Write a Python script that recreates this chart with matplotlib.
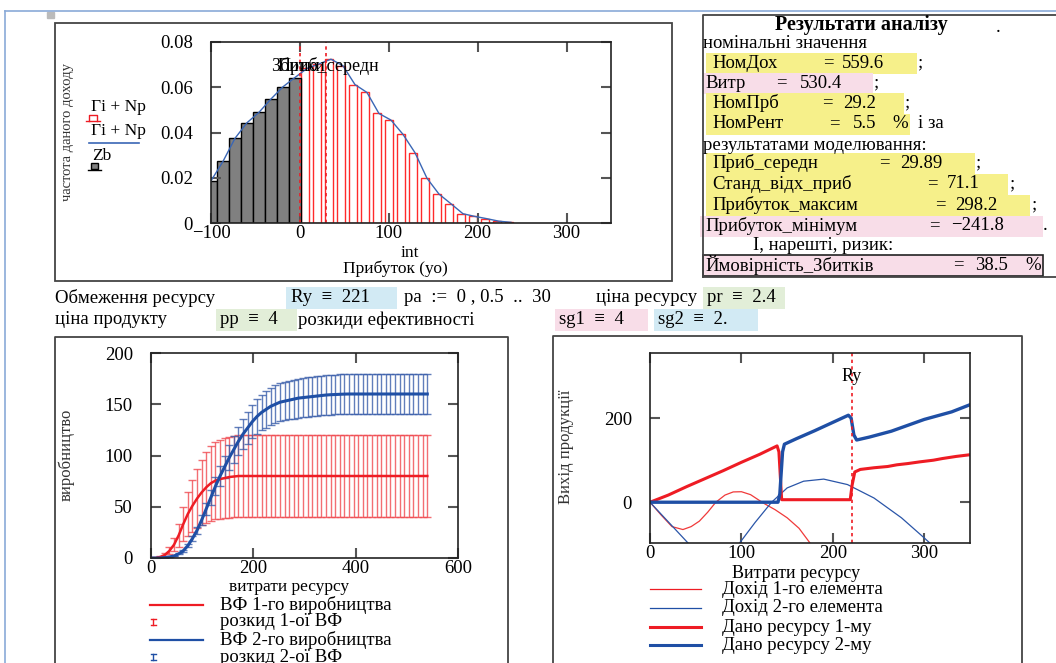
import numpy as np
import matplotlib.pyplot as plt
from matplotlib.patches import Rectangle

plt.rcParams['font.family'] = ['Liberation Serif', 'DejaVu Serif']

W, H = 1056, 663

# ---- гістограма прибутку (інтервали int, ширина 13.5)
int_left = [-106.8, -93.3, -79.8, -66.3, -52.8, -39.3, -25.8, -12.3,
            1.2, 14.7, 28.2, 41.7, 55.2, 68.7, 82.2, 95.7, 109.2, 122.7,
            136.2, 149.7, 163.2, 176.7, 190.2, 203.7, 217.2, 230.7]
freq = [0.0186, 0.0272, 0.0374, 0.0443, 0.0489, 0.0548, 0.0602, 0.0643,
        0.0683, 0.0703, 0.0724, 0.0695, 0.0612, 0.0577, 0.0484, 0.0455,
        0.0392, 0.0311, 0.0198, 0.0128, 0.0085, 0.0041, 0.0029, 0.0019,
        0.0008, 0.0003]
n_zb = 8          # інтервали збитків (сірі)
int_w = 13.5
prib_sered = 29.89

# ---- виробничі функції
res_x = np.arange(0, 541, 9)
vf1 = [0, 0, 1, 3, 7, 13, 22, 33, 43, 51, 58, 64, 69, 73, 75.5, 77, 78, 79,
       79.5, 80] + [80] * 41
vf2 = [0, 0, 0, 0.5, 1, 2, 4, 7, 12, 19, 27, 37, 48, 59, 70, 80, 89, 98, 106,
       114, 121, 127, 133, 138, 142, 145, 148, 150, 152, 153, 154, 155, 156,
       156.5, 157, 157.5, 158, 158.5, 159, 159.3, 159.5, 159.7, 159.9] + [160] * 18
rozkid1 = 0.5
rozkid2 = 0.122

# ---- розподіл ресурсу
Ry = 221
doh1_x = [0, 12, 24, 36, 45, 54, 63, 72, 82, 91, 100, 110, 124, 137, 150, 163, 175, 182]
doh1_y = [0, -30, -58, -65, -58, -45, -24, 0, 17, 24.5, 25, 18, -2, -18, -37, -62, -97, -115]
doh2_x = [0, 42, 60, 80, 98, 115, 133, 150, 168, 190, 216, 245, 275, 300, 310]
doh2_y = [0, -98, -135, -140, -97, -48, 0, 34, 50, 55, 42, 10, -37, -85, -105]
dano1_x = [0, 20, 40, 60, 80, 100, 120, 139, 141, 144, 219, 221, 224, 230,
           245, 260, 270, 282, 295, 310, 320, 335, 350]
dano1_y = [0, 17, 37, 56, 75, 95, 114, 134, 120, 6, 6, 40, 72, 78, 82, 85,
           89, 92, 96, 100, 104, 109, 113]
dano2_x = [0, 140, 142, 145, 147, 160, 180, 200, 217, 220, 223, 226, 240,
           264, 300, 330, 350]
dano2_y = [0, 0, 20, 120, 138, 151, 170, 190, 207, 200, 160, 148, 155,
           169, 197, 215, 232]

RED = '#ee1c24'
BLUE = '#1f4fa5'
YEL = '#f6f08a'
PINK = '#f8dde8'
LBLUE = '#d2eaf4'
GREEN = '#e2eed8'


def rect(x0, y0, x1, y1):
    return [x0 / W, 1 - y1 / H, (x1 - x0) / W, (y1 - y0) / H]


def mathcad(ax):
    for s in ax.spines.values():
        s.set_color('#222222')
        s.set_linewidth(1.2)
    ax.tick_params(direction='in', length=7, width=1.5, color='#555555',
                   top=True, right=True, labelsize=13.5)
    ax.tick_params(axis='x', pad=1.5)
    ax.tick_params(axis='y', pad=13)


fig = plt.figure(figsize=(W / 100, H / 100), dpi=100)

# фон з рамками і текстом (координати в пікселях)
bg = fig.add_axes([0, 0, 1, 1])
bg.set_xlim(0, W)
bg.set_ylim(H, 0)
bg.axis('off')

bg.plot([5, W], [11, 11], color='#8aaad8', lw=1.2)
bg.plot([5, 5], [11, H], color='#8aaad8', lw=1.2)
bg.add_patch(Rectangle((47, 12), 7, 6, color='#bbbbbb'))

bg.add_patch(Rectangle((55, 23), 617, 258, fill=False, ec='#444444', lw=1.3))
bg.plot([703, 703, W], [277, 15, 15], color='#444444', lw=1.3)
bg.plot([703, W], [277, 277], color='#444444', lw=1.3)
bg.plot([55, 55, 508, 508], [H, 337, 337, H], color='#444444', lw=1.3)
bg.plot([553, 553, 1022, 1022], [H, 336, 336, H], color='#444444', lw=1.3)

# блок результатів
fs = 13.5
bg.text(861, 25, 'Результати аналізу', ha='center', va='center', fontsize=14.5, fontweight='bold')
bg.text(998, 28, '.', ha='center', va='center', fontsize=fs)
bg.text(703, 44, 'номінальні значення', va='center', fontsize=fs)
rows = [
    ('НомДох', '=', '559.6', '', 712, 823, 842, 63, YEL, 706, 917, ';', 918),
    ('Витр', '=', '530.4', '', 705, 776, 800, 83, PINK, 703, 873, ';', 874),
    ('НомПрб', '=', '29.2', '', 712, 822, 843, 103, YEL, 706, 904, ';', 905),
    ('НомРент', '=', '5.5', '%', 712, 829, 853, 124, YEL, 706, 910, 'і за', 918),
    ('Приб_середн', '=', '29.89', '', 712, 879, 900, 163, YEL, 706, 975, ';', 976),
    ('Станд_відх_приб', '=', '71.1', '', 712, 927, 947, 184, YEL, 706, 1008, ';', 1010),
    ('Прибуток_максим', '=', '298.2', '', 712, 935, 955, 205, YEL, 706, 1030, ';', 1032),
    ('Прибуток_мінімум', '=', '\u2212241.8', '', 705, 929, 951, 226, PINK, 700, 1043, '.', 1043),
    ('Ймовірність_Збитків', '=', '38.5', '%', 705, 953, 975, 265, PINK, 703, 1043, '', 0),
]
for name, eq, val, pct, xn, xe, xv, y, col, h0, h1, tail, xt in rows:
    bg.add_patch(Rectangle((h0, y - 10.5), h1 - h0, 21, color=col, lw=0))
    bg.text(xn, y, name, va='center', fontsize=fs)
    bg.text(xe, y, eq, va='center', fontsize=fs)
    bg.text(xv, y, val, va='center', fontsize=fs)
    if pct:
        bg.text(h1 - 18, y, pct, va='center', fontsize=fs)
    if tail:
        bg.text(xt, y, tail, va='center', fontsize=fs)
bg.add_patch(Rectangle((703, 255), 340, 21, fill=False, ec='#222222', lw=1.2))
bg.text(703, 145, 'результатами моделювання:', va='center', fontsize=fs)
bg.text(753, 246, 'І, нарешті, ризик:', va='center', fontsize=fs)

# рядки параметрів
bg.add_patch(Rectangle((286, 287), 111, 22, color=LBLUE, lw=0))
bg.add_patch(Rectangle((703, 287), 82, 22, color=GREEN, lw=0))
bg.add_patch(Rectangle((216, 309), 81, 22, color=GREEN, lw=0))
bg.add_patch(Rectangle((555, 309), 93, 22, color=PINK, lw=0))
bg.add_patch(Rectangle((654, 309), 104, 22, color=LBLUE, lw=0))
for s, x, y in [('Обмеження ресурсу', 55, 298), ('Ry  \u2261  221', 291, 298),
                ('pa  :=  0 , 0.5  ..  30', 404, 298), ('ціна ресурсу', 596, 298),
                ('pr  \u2261  2.4', 707, 298), ('ціна продукту', 55, 320),
                ('pp  \u2261  4', 220, 320), ('розкиди ефективності', 298, 320),
                ('sg1  \u2261  4', 559, 320), ('sg2  \u2261  2.', 658, 320)]:
    bg.text(x, y, s, va='center', fontsize=13.5)

# підписи гістограми
bg.text(67, 132, 'частота даного доходу', rotation=90, ha='center', va='center', fontsize=10.5, color='#333333')
bg.text(91, 107, 'Гі + Np', va='center', fontsize=12.5)
bg.plot([89, 89, 97, 97], [121, 115, 115, 121], color=RED, lw=1)
bg.plot([86, 100], [121, 121], color=RED, lw=1)
bg.text(91, 131, 'Гі + Np', va='center', fontsize=12.5)
bg.plot([89, 139], [143, 143], color='#3a66b5', lw=1.2)
bg.text(92, 156, 'Zb', va='center', fontsize=12.5)
bg.add_patch(Rectangle((91, 163), 7, 6, fc='#808080', ec='black', lw=1))
bg.plot([88, 101], [170, 170], color='black', lw=1)
bg.text(410, 253, 'int', ha='center', va='center', fontsize=12.5)
bg.text(395, 269, 'Прибуток (уо)', ha='center', va='center', fontsize=12.5)

# легенди нижніх графіків
bg.text(289, 587, 'витрати ресурсу', ha='center', va='center', fontsize=12.5)
bg.text(66, 455, 'виробництво', rotation=90, ha='center', va='center', fontsize=12, color='#333333')
leg1 = [('ВФ 1-го виробництва', RED, 605, 'line'), ('розкид 1-ої ВФ', RED, 622, 'err'),
        ('ВФ 2-го виробництва', BLUE, 640, 'line'), ('розкид 2-ої ВФ', BLUE, 657, 'err')]
for s, c, y, kind in leg1:
    if kind == 'line':
        bg.plot([150, 203], [y, y], color=c, lw=1.6)
    else:
        bg.plot([153, 153], [y - 3, y + 3], color=c, lw=1)
        bg.plot([151, 156], [y - 3, y - 3], color=c, lw=1)
        bg.plot([151, 156], [y + 3, y + 3], color=c, lw=1)
    bg.text(220, y, s, va='center', fontsize=13.5)

bg.text(796, 573, 'Витрати ресурсу', ha='center', va='center', fontsize=13)
bg.text(566, 447, 'Вихід продукції', rotation=90, ha='center', va='center', fontsize=12, color='#333333')
leg2 = [('Дохід 1-го елемента', RED, 589, 0.9), ('Дохід 2-го елемента', BLUE, 608, 0.9),
        ('Дано ресурсу 1-му', RED, 627, 2.2), ('Дано ресурсу 2-му', BLUE, 645, 2.2)]
for s, c, y, lw in leg2:
    bg.plot([650, 701], [y, y], color=c, lw=lw)
    bg.text(722, y, s, va='center', fontsize=13.5)

# ---- гістограма
ax1 = fig.add_axes(rect(211, 42, 611, 223))
mathcad(ax1)
ax1.bar(int_left[n_zb:], freq[n_zb:], width=8.5, align='edge',
        facecolor='white', edgecolor='#ff2a2a', lw=1)
ax1.bar(int_left[:n_zb], freq[:n_zb], width=int_w, align='edge',
        facecolor='#808080', edgecolor='black', lw=1)
ax1.plot(np.array(int_left) + int_w / 2, freq, color='#3a66b5', lw=1)
ax1.axvline(0, color=RED, ls=(0, (2, 2)), lw=1.2)
ax1.axvline(prib_sered, color=RED, ls=(0, (2, 2)), lw=1.2)
ax1.text(-32, 0.0693, 'Збитки', va='center', fontsize=13)
ax1.text(-25, 0.0693, 'Приб_середн', va='center', fontsize=13)
ax1.set_xlim(-100, 350)
ax1.set_ylim(0, 0.08)
ax1.set_xticks([-100, 0, 100, 200, 300])
ax1.set_yticks([0, 0.02, 0.04, 0.06, 0.08])
ax1.set_yticklabels(['0', '0.02', '0.04', '0.06', '0.08'])

# ---- виробничі функції
ax2 = fig.add_axes(rect(151, 353, 458, 558))
mathcad(ax2)
vf1 = np.array(vf1)
vf2 = np.array(vf2)
ax2.errorbar(res_x, vf1, yerr=rozkid1 * vf1, fmt='none', ecolor='#f04a50',
             elinewidth=1, capsize=3, capthick=1, alpha=0.8)
ax2.errorbar(res_x, vf2, yerr=rozkid2 * vf2, fmt='none', ecolor='#3a5eaa',
             elinewidth=1, capsize=3, capthick=1, alpha=0.8)
ax2.plot(res_x, vf1, color=RED, lw=1.8)
ax2.plot(res_x, vf2, color=BLUE, lw=2.2)
ax2.set_xlim(0, 600)
ax2.set_ylim(0, 200)
ax2.set_xticks([0, 200, 400, 600])
ax2.set_yticks([0, 50, 100, 150, 200])

# ---- розподіл ресурсу
ax3 = fig.add_axes(rect(650, 353, 970, 543))
mathcad(ax3)
ax3.plot(doh1_x, doh1_y, color='#f03a3a', lw=0.9)
ax3.plot(doh2_x, doh2_y, color='#2a55a8', lw=0.9)
ax3.plot(dano1_x, dano1_y, color=RED, lw=2.2)
ax3.plot(dano2_x, dano2_y, color=BLUE, lw=2.4)
ax3.axvline(Ry, color=RED, ls=(0, (2, 2)), lw=1.2)
ax3.text(Ry, 298, 'Ry', ha='center', va='center', fontsize=13)
ax3.set_xlim(0, 350)
ax3.set_ylim(-97, 355)
ax3.set_xticks([0, 100, 200, 300])
ax3.set_yticks([0, 200])

fig.savefig('out.png', dpi=100)
